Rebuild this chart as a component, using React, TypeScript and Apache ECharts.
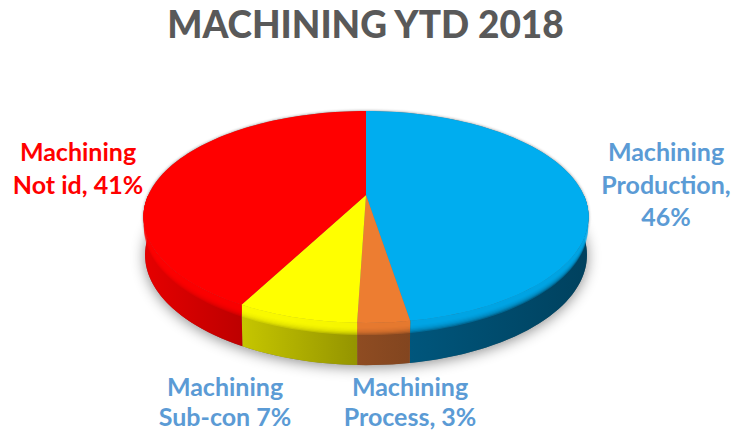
import React, { useEffect, useRef } from "react";
import * as echarts from "echarts";

const titleText = "MACHINING YTD 2018";
const categories = ["Machining Production", "Machining Process", "Machining Sub-con", "Machining Not id"];
const values = [46, 3, 7, 41];
const faceColors = ["#00ADEF", "#ED7D31", "#FFFF00", "#FF0000"];
const wallLeft = ["#00567C", "#8F4C22", "#C6C600", "#E60000"];
const wallRight = ["#00415E", "#82451F", "#949400", "#BD0000"];
const labelTexts = ["Machining\nProduction,\n46%", "Machining\nProcess, 3%", "Machining\nSub-con 7%", "Machining\nNot id, 41%"];
const labelColors = ["#5B9BD5", "#5B9BD5", "#5B9BD5", "#FF0000"];
const labelX = [666, 410, 225, 78];
const labelY = [135, 371, 371, 135];
const labelLine = [32.5, 30, 30, 32.5];

// perspective disc: apex is where the slices meet, the rim is the projected circle
const CX = 366, APEX_Y = 195, PERSP = 0.2075, FX = 217.7, FY = 101.4;
const MID_Y = 217;
const rim = (deg: number) => {
  const a = (deg * Math.PI) / 180;
  const w = 1 + PERSP * Math.cos(a);
  return [CX + (FX * Math.sin(a)) / w, APEX_Y - (FY * Math.cos(a)) / w];
};
const base = (deg: number) => {
  const p = rim(deg);
  return [CX + 0.993 * (p[0] - CX), MID_Y + 38 + (p[1] - MID_Y) * 1.04];
};
const mix = (a: number[], b: number[], t: number) => [a[0] + (b[0] - a[0]) * t, a[1] + (b[1] - a[1]) * t];
const total = values.reduce((s, v) => s + v, 0);
const startAngle = (i: number) => (values.slice(0, i).reduce((s, v) => s + v, 0) / total) * 360;
const sweep = (a: number, b: number) => {
  const out: number[] = [];
  const n = Math.max(1, Math.ceil(Math.abs(b - a) / 2));
  for (let k = 0; k <= n; k++) out.push(a + ((b - a) * k) / n);
  return out;
};

const renderSlice = (params: any, api: any) => {
  const i = params.dataIndex;
  const a0 = startAngle(i);
  const a1 = a0 + (api.value(0) / total) * 360;
  const children: any[] = [];
  const w0 = Math.max(a0, 90), w1 = Math.min(a1, 270);
  if (w1 > w0) {
    const angles = sweep(w0, w1);
    const band = (t0: number, t1: number) => [
      ...angles.map((d) => mix(rim(d), base(d), t0)),
      ...angles.slice().reverse().map((d) => mix(rim(d), base(d), t1)),
    ];
    children.push({
      type: "polygon",
      shape: { points: band(0, 1) },
      style: {
        fill: new echarts.graphic.LinearGradient(0, 0, 1, 0, [
          { offset: 0, color: wallLeft[i] },
          { offset: 1, color: wallRight[i] },
        ]),
      },
    });
    for (let k = 1; k <= 7; k++) {
      children.push({
        type: "polygon",
        shape: { points: band(0, 0.09 + k * 0.028) },
        style: { fill: faceColors[i], opacity: 0.3 },
      });
    }
  }
  const top = [[CX, APEX_Y], ...sweep(a0, a1).map(rim)];
  children.push({ type: "polygon", shape: { points: top }, style: { fill: faceColors[i] } });
  return { type: "group", children };
};

export default function App() {
  const ref = useRef<HTMLDivElement>(null);
  useEffect(() => {
    const chart = echarts.init(ref.current!, null, { renderer: "svg" });
    const ring = sweep(0, 360);
    chart.setOption({
      animation: false,
      backgroundColor: "#FFFFFF",
      title: {
        text: titleText,
        left: "center",
        top: 0,
        textStyle: { fontFamily: "Lato", fontWeight: 900, fontSize: 37, color: "#595959" },
      },
      graphic: [
        {
          type: "polygon",
          z: -1,
          shape: { points: ring.map(base) },
          style: { fill: "#777777", shadowBlur: 14, shadowColor: "rgba(0,0,0,0.45)", shadowOffsetY: 2 },
        },
        {
          type: "polygon",
          z: -1,
          shape: { points: ring.map(rim) },
          style: { fill: "#777777", shadowBlur: 3, shadowColor: "rgba(0,0,0,0.45)" },
        },
        ...labelTexts.map((t, i) => ({
          type: "text",
          x: labelX[i],
          y: labelY[i],
          z: 5,
          style: {
            text: t,
            fill: labelColors[i],
            fontFamily: "Lato",
            fontWeight: "bold",
            fontSize: 25,
            lineHeight: labelLine[i],
            align: "center",
            verticalAlign: "top",
          },
        })),
      ],
      series: [
        {
          type: "custom",
          coordinateSystem: "none",
          renderItem: renderSlice,
          data: values.map((v, i) => ({ name: categories[i], value: [v] })),
          silent: true,
        },
      ],
    });
    return () => chart.dispose();
  }, []);
  return <div ref={ref} style={{ position: "fixed", left: 0, top: 0, width: 731, height: 431 }} />;
}
